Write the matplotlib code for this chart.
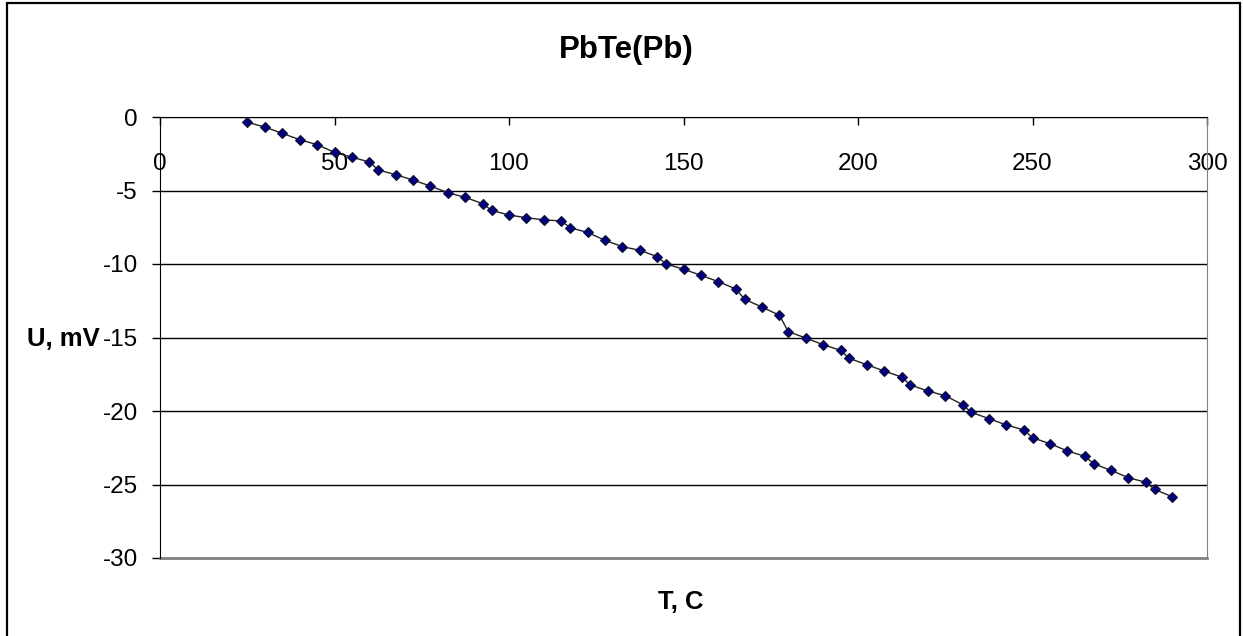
import matplotlib
matplotlib.use("Agg")
import matplotlib.pyplot as plt
from matplotlib.patches import Rectangle

# Temperature, C
T = [25, 30, 35, 40, 45, 50, 55, 60, 62.5, 67.5, 72.5, 77.5, 82.5, 87.5,
     92.5, 95, 100, 105, 110, 115, 117.5, 122.5, 127.5, 132.5, 137.5, 142.5,
     145, 150, 155, 160, 165, 167.5, 172.5, 177.5, 180, 185, 190, 195, 197.5,
     202.5, 207.5, 212.5, 215, 220, 225, 230, 232.5, 237.5, 242.5, 247.5,
     250, 255, 260, 265, 267.5, 272.5, 277.5, 282.5, 285, 290]
# Voltage, mV
U = [-0.36, -0.68, -1.11, -1.54, -1.88, -2.40, -2.74, -3.06, -3.60, -3.92,
     -4.29, -4.70, -5.15, -5.47, -5.90, -6.35, -6.67, -6.85, -7.00, -7.07,
     -7.53, -7.85, -8.39, -8.82, -9.07, -9.50, -10.00, -10.35, -10.77, -11.20,
     -11.70, -12.40, -12.93, -13.49, -14.60, -15.03, -15.49, -15.87, -16.42,
     -16.85, -17.28, -17.69, -18.23, -18.64, -18.96, -19.57, -20.09, -20.52,
     -20.95, -21.29, -21.82, -22.22, -22.72, -23.08, -23.58, -24.04, -24.54,
     -24.85, -25.33, -25.83]

X_TICKS = [0, 50, 100, 150, 200, 250, 300]
Y_TICKS = [0, -5, -10, -15, -20, -25, -30]

plt.rcParams["font.family"] = ["Liberation Sans", "DejaVu Sans"]
plt.rcParams["axes.unicode_minus"] = False

W, H = 1243, 636
fig = plt.figure(figsize=(W / 100, H / 100), dpi=100)

# outer chart border
fig.patches.append(Rectangle((7 / W, -0.01), (1240 - 7) / W, 1.01 - 3 / H,
                             transform=fig.transFigure, fill=False,
                             edgecolor="black", linewidth=1.6))

ax = fig.add_axes([160 / W, 1 - 558 / H, (1207 - 160) / W, (558 - 117) / H])
ax.set_xlim(0, 300)
ax.set_ylim(-30, 0)

# horizontal gridlines
for y in Y_TICKS[:-1]:
    ax.axhline(y, color="black", lw=1.0, zorder=1)

ax.plot(T, U, color="#222222", lw=1.0, marker="D", ms=5.5,
        markerfacecolor="#000080", markeredgecolor="#101030",
        markeredgewidth=0.8, zorder=3)

# x axis sits at U = 0 (top), labels drawn below it inside the plot
ax.spines["bottom"].set_position(("data", 0))
ax.spines["bottom"].set_color("black")
ax.spines["top"].set_visible(False)
ax.spines["left"].set_color("black")
ax.spines["right"].set_color("#808080")
ax.axhline(-30, color="#808080", lw=2.0, zorder=2, clip_on=False)

ax.set_xticks(X_TICKS)
ax.set_yticks(Y_TICKS)
ax.tick_params(axis="x", direction="out", length=6, width=1, pad=20,
               labelsize=17.5)
ax.tick_params(axis="y", direction="out", length=6, width=1, pad=10,
               labelsize=17.5)

ax.set_ylabel("U, mV", rotation=0, ha="right", va="center",
              fontsize=18.5, fontweight="bold")
ax.yaxis.set_label_coords(-0.058, 0.497)
ax.set_xlabel("T, C", fontsize=18.5, fontweight="bold")
ax.xaxis.set_label_coords(0.4976, -0.10)
ax.xaxis.label.set_va("center")

fig.text(626 / W, 1 - 50 / H, "PbTe(Pb)", ha="center", va="center",
         fontsize=22.5, fontweight="bold")

fig.savefig("out.png", dpi=100)
